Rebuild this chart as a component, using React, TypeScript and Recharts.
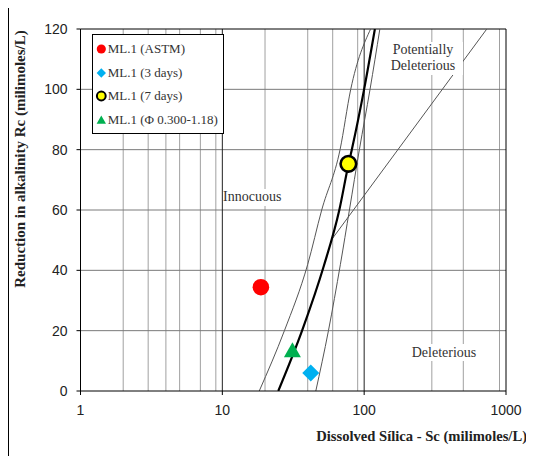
import React from 'react'
import { ComposedChart, Line, Scatter, XAxis, YAxis, CartesianGrid, ReferenceLine } from 'recharts'

// axis ticks and grid positions (Sc is log scale)
const xTicks = [1, 10, 100, 1000]
const yTicks = [0, 20, 40, 60, 80, 100, 120]
const minorX = [2, 3, 4, 5, 6, 7, 8, 9, 20, 30, 40, 50, 60, 70, 80, 90, 200, 300, 400, 500, 600, 700, 800, 900]
const majorX = [10, 100]
const gridY = [20, 40, 60, 80, 100]

// ASTM C289 boundary curves (x = Sc, y = Rc)
const leftCurve = [
  { x: 18.2, y: 0 }, { x: 27.4, y: 20 }, { x: 40, y: 42 }, { x: 50.2, y: 60 },
  { x: 67.6, y: 80 }, { x: 80.4, y: 100 }, { x: 111, y: 120 },
]
const mainCurve = [
  { x: 24.8, y: 0 }, { x: 36.5, y: 20 }, { x: 52, y: 41.5 }, { x: 66.8, y: 60 },
  { x: 77.4, y: 75 }, { x: 81.8, y: 80 }, { x: 99.9, y: 100 }, { x: 119, y: 120 },
]
const rightCurve = [
  { x: 45.6, y: 0 }, { x: 56, y: 20 }, { x: 68, y: 42 }, { x: 78.7, y: 60 },
  { x: 92.5, y: 80 }, { x: 110, y: 100 }, { x: 129, y: 120 },
]
const potentialLine = [{ x: 59, y: 50.2 }, { x: 732, y: 120 }]

// sample results
const astm = [{ x: 18.7, y: 34.4 }]
const days3 = [{ x: 42, y: 6 }]
const days7 = [{ x: 77.4, y: 75.3 }]
const sieved = [{ x: 31.2, y: 13.4 }]

const serif = '"Liberation Serif", "Times New Roman", serif'
const sans = '"Liberation Sans", Arial, sans-serif'

const Marker = ({ kind, cx, cy, big }: { kind: string; cx: number; cy: number; big?: boolean }) => {
  const k = big ? 1 : 0.55
  if (kind === 'circle') return <circle cx={cx} cy={cy} r={8.3 * k} fill="#ff0000" />
  if (kind === 'diamond') {
    const d = 8.5 * k
    return <polygon points={`${cx},${cy - d} ${cx + d},${cy} ${cx},${cy + d} ${cx - d},${cy}`} fill="#00b0f0" />
  }
  if (kind === 'ring') return <circle cx={cx} cy={cy} r={(big ? 7.8 : 4.4)} fill="#ffff00" stroke="#000" strokeWidth={big ? 2.6 : 2} />
  const w = 8.5 * k
  const h = 15 * k
  return <polygon points={`${cx},${cy - h * 0.55} ${cx + w},${cy + h * 0.45} ${cx - w},${cy + h * 0.45}`} fill="#00b050" />
}

const legendItems = [
  { name: 'ML.1 (ASTM)', kind: 'circle' },
  { name: 'ML.1 (3 days)', kind: 'diamond' },
  { name: 'ML.1 (7 days)', kind: 'ring' },
  { name: 'ML.1 (\u03A6 0.300-1.18)', kind: 'triangle' },
]

const shapeOf = (kind: string) => (p: any) => <Marker kind={kind} cx={p.cx} cy={p.cy} big />

const note: React.CSSProperties = {
  position: 'absolute', fontFamily: serif, fontSize: 14, color: '#333', background: '#fff',
  textAlign: 'center', lineHeight: '16.5px', whiteSpace: 'nowrap',
}

export default function App() {
  return (
    <div style={{
      position: 'relative', width: 525, height: 448, marginTop: -1,
      borderTop: '1px solid #000', borderLeft: '1px solid #000',
    }}>
      <ComposedChart width={525} height={448} margin={{ top: 21, right: 28, left: 0, bottom: 31 }} style={{ overflow: 'visible' }}>
        <CartesianGrid horizontal={false} verticalValues={minorX} stroke="#a0a0a0" />
        <CartesianGrid vertical={false} horizontalValues={gridY} stroke="#7a7a7a" />
        <CartesianGrid horizontal={false} verticalValues={majorX} stroke="#222" />
        <ReferenceLine y={120} stroke="#000" />
        <ReferenceLine x={1000} stroke="#000" />
        <XAxis
          type="number" dataKey="x" scale="log" domain={[1, 1000]} ticks={xTicks} allowDataOverflow
          height={34} stroke="#000" tickSize={4} tickMargin={10}
          tick={{ fontFamily: sans, fontSize: 14, fill: '#222' }}
          label={{
            content: () => (
              <text x={518} y={428} textAnchor="end" dominantBaseline="central"
                fontFamily={serif} fontSize={14.6} fontWeight="bold" fill="#222">
                Dissolved Sílica - Sc (milimoles/L)
              </text>
            ),
          }}
        />
        <YAxis
          type="number" dataKey="y" domain={[0, 120]} ticks={yTicks} allowDataOverflow
          width={71.5} stroke="#000" tickSize={4} tickMargin={9}
          tick={{ fontFamily: sans, fontSize: 14, fill: '#222' }}
          label={{
            content: () => (
              <text x={11} y={151} transform="rotate(-90 11 151)" textAnchor="middle" dominantBaseline="central"
                fontFamily={serif} fontSize={15} fontWeight="bold" fill="#222">
                Reduction in alkalinity Rc (milimoles/L)
              </text>
            ),
          }}
        />
        <Line data={leftCurve} dataKey="y" type="monotone" stroke="#555" strokeWidth={1} dot={false} isAnimationActive={false} />
        <Line data={rightCurve} dataKey="y" type="monotone" stroke="#555" strokeWidth={1} dot={false} isAnimationActive={false} />
        <Line data={potentialLine} dataKey="y" type="linear" stroke="#555" strokeWidth={1} dot={false} isAnimationActive={false} />
        <Line data={mainCurve} dataKey="y" type="monotone" stroke="#000" strokeWidth={2.2} dot={false} isAnimationActive={false} />
        <Scatter data={astm} dataKey="y" shape={shapeOf('circle')} isAnimationActive={false} />
        <Scatter data={days3} dataKey="y" shape={shapeOf('diamond')} isAnimationActive={false} />
        <Scatter data={days7} dataKey="y" shape={shapeOf('ring')} isAnimationActive={false} />
        <Scatter data={sieved} dataKey="y" shape={shapeOf('triangle')} isAnimationActive={false} />
      </ComposedChart>

      <div style={{ ...note, left: 214, top: 181 }}>Innocuous</div>
      <div style={{ ...note, left: 374, top: 33.5, width: 80 }}>Potentially<br />Deleterious</div>
      <div style={{ ...note, left: 396, top: 335.5, width: 78, lineHeight: '17px' }}>Deleterious</div>

      <div style={{
        position: 'absolute', left: 82.7, top: 26.3, width: 130, height: 95.4, border: '1px solid #000',
        background: '#fff', boxSizing: 'content-box', paddingTop: 2,
      }}>
        {legendItems.map((it) => (
          <div key={it.name} style={{ height: 23.5, display: 'flex', alignItems: 'center' }}>
            <svg width={15} height={14} style={{ flex: 'none' }}>
              <Marker kind={it.kind} cx={8.3} cy={7} />
            </svg>
            <span style={{ fontFamily: serif, fontSize: 13, color: '#333', whiteSpace: 'nowrap' }}>{it.name}</span>
          </div>
        ))}
      </div>
    </div>
  )
}
